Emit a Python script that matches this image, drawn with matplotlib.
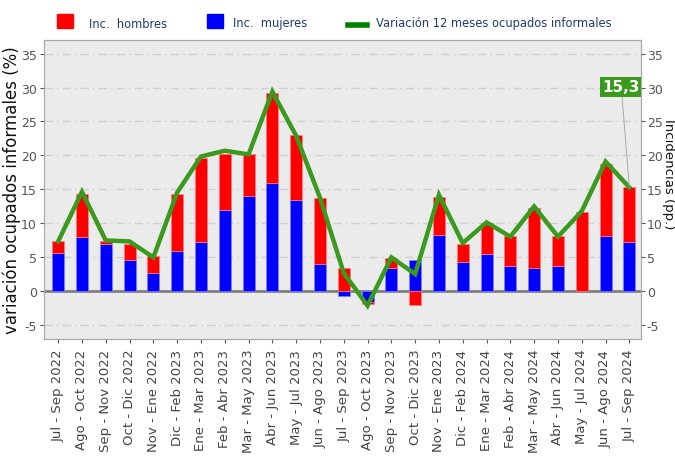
import numpy as np
import matplotlib
matplotlib.use("Agg")
import matplotlib.pyplot as plt
from matplotlib.patches import Rectangle
from matplotlib.lines import Line2D

# datos (trimestres moviles)
periodos = ["Jul - Sep 2022", "Ago - Oct 2022", "Sep - Nov 2022", "Oct - Dic 2022",
            "Nov - Ene 2022", "Dic - Feb 2023", "Ene - Mar 2023", "Feb - Abr 2023",
            "Mar - May 2023", "Abr - Jun 2023", "May - Jul 2023", "Jun - Ago 2023",
            "Jul - Sep 2023", "Ago - Oct 2023", "Sep - Nov 2023", "Oct - Dic 2023",
            "Nov - Ene 2023", "Dic - Feb 2024", "Ene - Mar 2024", "Feb - Abr 2024",
            "Mar - May 2024", "Abr - Jun 2024", "May - Jul 2024", "Jun - Ago 2024",
            "Jul - Sep 2024"]
inc_mujeres = [5.6, 8.0, 7.0, 4.65, 2.75, 5.9, 7.2, 12.0, 14.0, 16.0, 13.5, 4.0,
               -0.75, -1.6, 3.5, 4.6, 8.3, 4.3, 5.5, 3.7, 3.45, 3.8, 0.0, 8.2, 7.3]
inc_hombres = [1.75, 6.4, 0.4, 2.25, 2.45, 8.5, 12.5, 8.15, 6.15, 13.2, 9.5, 9.7,
               3.4, -0.3, 1.4, -1.95, 5.6, 2.7, 4.55, 4.4, 8.8, 4.35, 11.65, 10.6, 8.0]
var_informales = [7.35, 14.65, 7.5, 7.35, 5.0, 14.55, 19.85, 20.7, 20.15, 29.4, 22.9, 13.8,
                  2.7, -2.1, 5.0, 2.55, 14.2, 7.1, 10.15, 8.05, 12.5, 8.05, 11.8, 19.1, 15.3]

x = np.arange(len(periodos))
m = np.array(inc_mujeres)
h = np.array(inc_hombres)
# apilado: positivos hacia arriba, negativos hacia abajo
base_h = np.where(h >= 0, np.maximum(m, 0), np.minimum(m, 0))

fondo = "#ebebeb"
gris = "#555555"
verde = "#3a9a1e"
azul_txt = "#1f3b73"

fig = plt.figure(figsize=(6.75, 4.6), dpi=100)
ax = fig.add_axes([0.065, 0.261, 0.885, 0.65])
ax.set_facecolor(fondo)

for y in [-5, 5, 10, 15, 20, 25, 30, 35]:
    ax.axhline(y, color="#cfcfcf", lw=1, ls=(0, (6, 3, 1, 3)), zorder=0)
ax.axhline(0, color="#808080", lw=2, zorder=1)

ax.bar(x, m, width=0.5, color="#0000ff", edgecolor="#8080ff", linewidth=0.5, zorder=2)
ax.bar(x, h, width=0.5, bottom=base_h, color="#ff0000", edgecolor="#ff8080", linewidth=0.5, zorder=2)
ax.plot(x, var_informales, color=verde, lw=3.2, solid_joinstyle="miter", zorder=3)

ax.set_xlim(-0.6, 24.5)
ax.set_ylim(-7, 37)
yt = [-5, 0, 5, 10, 15, 20, 25, 30, 35]
ax.set_yticks(yt)
ax.set_yticklabels([str(v) for v in yt])
ax.set_xticks(x)
ax.set_xticklabels(periodos, rotation=90)
ax.tick_params(axis="y", colors=gris, labelsize=9, length=3, width=0.8, pad=2)
ax.tick_params(axis="x", colors=gris, labelsize=9.5, length=3, width=0.8, pad=4)
for lab in ax.get_xticklabels():
    lab.set_color("#444444")
for s in ax.spines.values():
    s.set_color("#aaaaaa")

ax2 = ax.twinx()
ax2.set_ylim(-7, 37)
ax2.set_yticks(yt)
ax2.set_yticklabels([str(v) for v in yt])
ax2.tick_params(axis="y", colors=gris, labelsize=9, length=3, width=0.8, pad=1)
for s in ax2.spines.values():
    s.set_color("#aaaaaa")

# titulos de ejes
fig.text(0.018, 0.587, "variación ocupados informales (%)", rotation=90, ha="center",
         va="center", fontsize=12, color="#111111")
fig.text(0.9905, 0.622, "Incidencias (pp.)", rotation=270, ha="center", va="center",
         fontsize=9.5, color="#111111")

# etiqueta del ultimo valor
ax.annotate(f"{var_informales[-1]:.1f}".replace(".", ","), xy=(x[-1], var_informales[-1]),
            xytext=(23.66, 30.1), ha="center", va="center", fontsize=11, fontweight="bold",
            color="white", zorder=5,
            bbox=dict(boxstyle="square,pad=0.15", fc="#3a9a1e", ec="none"),
            arrowprops=dict(arrowstyle="-", color="#aaaaaa", lw=0.7, shrinkA=0, shrinkB=0))

# leyenda manual arriba
fig.patches.append(Rectangle((57 / 675, 1 - 29 / 460), 16 / 675, 14 / 460,
                             transform=fig.transFigure, color="#ff0000"))
fig.patches.append(Rectangle((207 / 675, 1 - 29 / 460), 16 / 675, 14 / 460,
                             transform=fig.transFigure, color="#0000ff"))
fig.lines.append(Line2D([348 / 675, 367 / 675], [1 - 25.5 / 460] * 2,
                        transform=fig.transFigure, color="#008000", lw=4))
for xt, txt in [(89, "Inc.  hombres"), (233, "Inc.  mujeres"),
                (376, "Variación 12 meses ocupados informales")]:
    fig.text(xt / 675, 1 - 24 / 460, txt, ha="left", va="center", fontsize=8.3,
             color=azul_txt)

fig.savefig("out.png", dpi=100, facecolor="white")
